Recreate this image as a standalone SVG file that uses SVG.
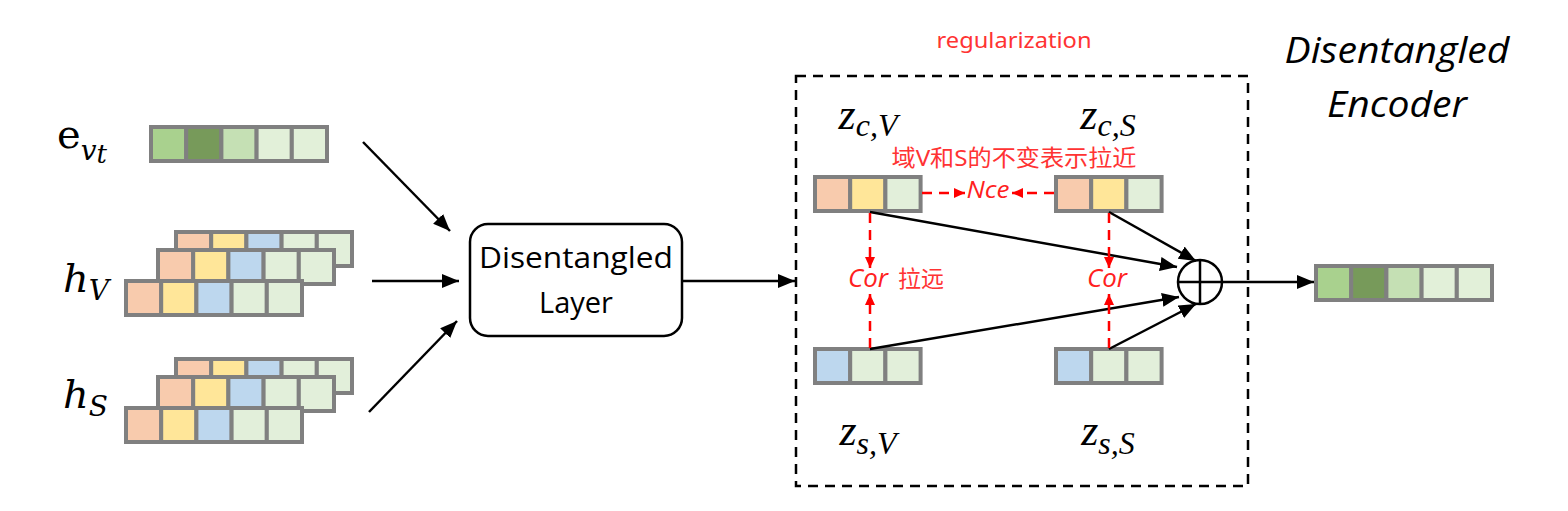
<svg xmlns="http://www.w3.org/2000/svg" xmlns:xlink="http://www.w3.org/1999/xlink" width="1568" height="511" viewBox="0 0 1568 511">
<style>
.cell{stroke:#808080;stroke-width:4}
.o{fill:#F8CBAD}.y{fill:#FFE699}.b{fill:#BDD7EE}.g{fill:#E2EFDA}
.g1{fill:#A9D18E}.g2{fill:#779A5A}.g3{fill:#C5E0B4}.g4{fill:#E2F0D9}
.math{font-family:"DejaVu Serif",serif;fill:#000}
.zm{font-family:"Liberation Serif","Times New Roman",serif;font-style:italic;fill:#000}
.it{font-style:italic}
.red{font-family:"Noto Sans","Noto Sans CJK SC",sans-serif;fill:#FF3333}
.redi{font-family:"Open Sans","Liberation Sans",sans-serif;font-style:italic;fill:#FF2020}
.lbl{font-family:"Open Sans","Liberation Sans",sans-serif;fill:#000}
.arr{stroke:#000;stroke-width:2.5;fill:none;marker-end:url(#ah)}
.rd{stroke:#FF0000;stroke-width:2.5;fill:none;stroke-dasharray:10 7;marker-end:url(#rh)}
</style>
<defs>
<marker id="ah" markerUnits="userSpaceOnUse" markerWidth="18" markerHeight="16" refX="17" refY="7" orient="auto"><path d="M0,0 L17,7 L0,14 z" fill="#000"/></marker>
<marker id="rh" markerUnits="userSpaceOnUse" markerWidth="12" markerHeight="12" refX="11" refY="5" orient="auto"><path d="M0,0 L11,5 L0,10 z" fill="#FF0000"/></marker>
<g id="vecG">
<rect class="cell g1" x="0" y="0" width="35.2" height="34"/>
<rect class="cell g2" x="35.2" y="0" width="35.2" height="34"/>
<rect class="cell g3" x="70.4" y="0" width="35.2" height="34"/>
<rect class="cell g4" x="105.6" y="0" width="35.2" height="34"/>
<rect class="cell g4" x="140.8" y="0" width="35.2" height="34"/>
</g>
<g id="vecH">
<rect class="cell o" x="0" y="0" width="35.2" height="34"/>
<rect class="cell y" x="35.2" y="0" width="35.2" height="34"/>
<rect class="cell b" x="70.4" y="0" width="35.2" height="34"/>
<rect class="cell g" x="105.6" y="0" width="35.2" height="34"/>
<rect class="cell g" x="140.8" y="0" width="35.2" height="34"/>
</g>
<g id="zc">
<rect class="cell o" x="0" y="0" width="35.2" height="34"/>
<rect class="cell y" x="35.2" y="0" width="35.2" height="34"/>
<rect class="cell g" x="70.4" y="0" width="35.2" height="34"/>
</g>
<g id="zs">
<rect class="cell b" x="0" y="0" width="35.2" height="34"/>
<rect class="cell g" x="35.2" y="0" width="35.2" height="34"/>
<rect class="cell g" x="70.4" y="0" width="35.2" height="34"/>
</g>
</defs>
<rect width="1568" height="511" fill="#fff"/>

<g id="input-e">
<text class="math" x="57" y="148" font-size="40">e<tspan class="it" font-size="28" dy="12">v</tspan><tspan class="it" font-size="26" dy="3">t</tspan></text>
<use xlink:href="#vecG" x="151" y="127"/>
</g>
<g id="input-hV">
<text class="math it" x="63" y="292" font-size="40">h<tspan font-size="28" dy="8">V</tspan></text>
<use xlink:href="#vecH" x="176" y="232"/>
<use xlink:href="#vecH" x="158" y="250"/>
<use xlink:href="#vecH" x="126" y="281"/>
</g>
<g id="input-hS">
<text class="math it" x="63" y="408" font-size="40">h<tspan font-size="28" dy="8">S</tspan></text>
<use xlink:href="#vecH" x="176" y="359"/>
<use xlink:href="#vecH" x="158" y="377"/>
<use xlink:href="#vecH" x="126" y="408"/>
</g>

<g id="disentangled-layer">
<rect x="470" y="224" width="212" height="112" rx="18" ry="18" fill="#fff" stroke="#000" stroke-width="2.5"/>
<text class="lbl" x="576" y="268" font-size="29" text-anchor="middle" textLength="194" lengthAdjust="spacingAndGlyphs">Disentangled</text>
<text class="lbl" x="576" y="313" font-size="29" text-anchor="middle">Layer</text>
</g>

<g id="regularization">
<rect x="796" y="76" width="452" height="410" fill="none" stroke="#000" stroke-width="2.5" stroke-dasharray="10 7"/>
<text class="red" x="1014" y="48" font-size="22" text-anchor="middle" textLength="155" lengthAdjust="spacingAndGlyphs">regularization</text>
</g>

<g id="z-cV">
<text class="zm" x="868" y="129" font-size="44" text-anchor="middle">z<tspan font-size="32" dy="7">c,V</tspan></text>
<use xlink:href="#zc" x="815" y="177"/>
</g>
<g id="z-cS">
<text class="zm" x="1108" y="129" font-size="44" text-anchor="middle">z<tspan font-size="32" dy="7">c,S</tspan></text>
<use xlink:href="#zc" x="1056" y="177"/>
</g>
<g id="z-sV">
<text class="zm" x="868" y="445" font-size="44" text-anchor="middle">z<tspan font-size="32" dy="9">s,V</tspan></text>
<use xlink:href="#zs" x="815" y="349"/>
</g>
<g id="z-sS">
<text class="zm" x="1108" y="445" font-size="44" text-anchor="middle">z<tspan font-size="32" dy="9">s,S</tspan></text>
<use xlink:href="#zs" x="1056" y="349"/>
</g>

<g id="sum">
<circle cx="1200" cy="282" r="22" fill="#fff" stroke="#000" stroke-width="2.5"/>
<line x1="1178" y1="282" x2="1222" y2="282" stroke="#000" stroke-width="2.5"/>
<line x1="1200" y1="260" x2="1200" y2="304" stroke="#000" stroke-width="2.5"/>
</g>

<g id="output">
<use xlink:href="#vecG" x="1316" y="266"/>
<text class="lbl" x="1397" y="63" font-size="37" font-style="italic" text-anchor="middle" textLength="225" lengthAdjust="spacingAndGlyphs">Disentangled</text>
<text class="lbl" x="1397" y="117" font-size="37" font-style="italic" text-anchor="middle" textLength="140" lengthAdjust="spacingAndGlyphs">Encoder</text>
</g>

<g id="labels">
<text class="red" x="1014" y="166" font-size="22.5" text-anchor="middle" textLength="245" lengthAdjust="spacingAndGlyphs">域V和S的不变表示拉近</text>
<text class="redi" x="988" y="198" font-size="24" text-anchor="middle" textLength="43" lengthAdjust="spacingAndGlyphs">Nce</text>
<text class="redi" x="868" y="287" font-size="25" text-anchor="middle" textLength="40" lengthAdjust="spacingAndGlyphs">Cor</text>
<text class="red" x="898" y="287" font-size="23">拉远</text>
<text class="redi" x="1107" y="287" font-size="25" text-anchor="middle" textLength="40" lengthAdjust="spacingAndGlyphs">Cor</text>
</g>

<g id="connectors">
<line class="arr" x1="363" y1="142" x2="450" y2="231"/>
<line class="arr" x1="372" y1="281" x2="459" y2="281"/>
<line class="arr" x1="369" y1="412" x2="457" y2="321"/>
<line class="arr" x1="682" y1="281" x2="795" y2="281"/>
<line class="arr" x1="870" y1="212" x2="1177" y2="267"/>
<line class="arr" x1="1109" y1="212" x2="1196" y2="261"/>
<line class="arr" x1="870" y1="349" x2="1179" y2="297"/>
<line class="arr" x1="1109" y1="349" x2="1196" y2="304"/>
<line class="arr" x1="1222" y1="282" x2="1314" y2="282"/>
<line class="rd" x1="922" y1="193" x2="965" y2="193"/>
<line class="rd" x1="1054" y1="193" x2="1012" y2="193"/>
<line class="rd" x1="870" y1="213" x2="870" y2="268"/>
<line class="rd" x1="870" y1="348" x2="870" y2="294"/>
<line class="rd" x1="1109" y1="213" x2="1109" y2="268"/>
<line class="rd" x1="1109" y1="348" x2="1109" y2="294"/>
</g>
</svg>
